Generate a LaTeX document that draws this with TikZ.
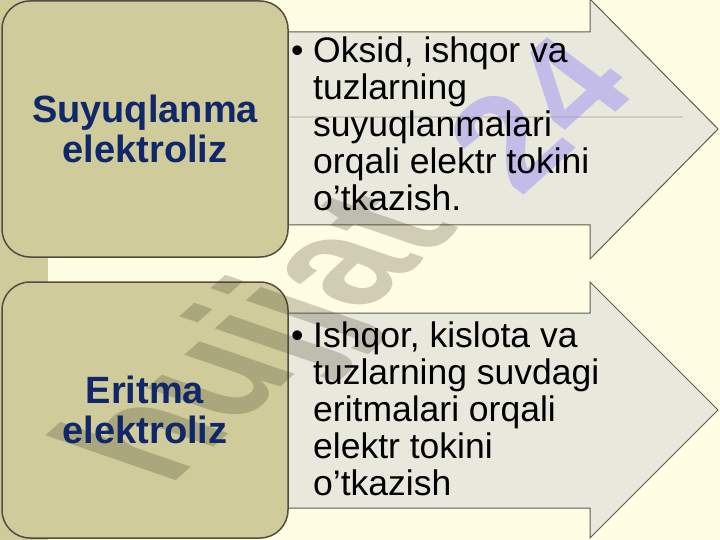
\documentclass[tikz,border=0pt]{standalone}
\usepackage{fontspec}
\setmainfont{Liberation Sans}
\definecolor{bgcream}{RGB}{255,253,228}
\definecolor{olivefill}{RGB}{207,203,155}
\definecolor{oliveedge}{RGB}{80,78,62}
\definecolor{arrowfill}{RGB}{232,232,221}
\definecolor{arrowedge}{RGB}{95,93,80}
\definecolor{headnavy}{RGB}{16,40,105}
\definecolor{wmgray}{RGB}{60,56,30}
\definecolor{wmlav}{RGB}{148,128,248}
\definecolor{faintline}{RGB}{208,206,188}
\begin{document}
\begin{tikzpicture}[x=1pt,y=-1pt,
  catbox/.style={draw=oliveedge, line width=1.5pt, fill=olivefill, rounded corners=28pt,
    minimum width=286pt, minimum height=256pt, inner sep=0pt},
  arrowshape/.style={draw=arrowedge, line width=1pt, fill=arrowfill, line join=miter},
  headtext/.style={font=\fontsize{38}{40}\selectfont\bfseries, text=headnavy, align=center},
  bodyline/.style={font=\fontsize{35.5}{37}\selectfont, anchor=base west, inner sep=0pt},
  wmtext/.style={transform shape, anchor=base west, inner sep=0pt, font=\fontsize{100}{100}\selectfont\bfseries},
]
\useasboundingbox (0,0) rectangle (720,540);
\fill[bgcream] (0,0) rectangle (720,540);
\fill[olivefill] (0,0) rectangle (48,540);

% arrows
\draw[arrowshape] (270,32) -- (590,32) -- (590,-1) -- (718,129) -- (590,259) -- (590,225) -- (270,225) -- cycle;
\draw[arrowshape] (270,313) -- (590,313) -- (590,282) -- (718,410) -- (590,538) -- (590,508) -- (270,508) -- cycle;
\draw[faintline, line width=1.5pt] (289,117) -- (683,117);

% boxes
\node[catbox] (box1) at (145,129) {};
\node[catbox] (box2) at (145,410) {};

% watermark
\begin{scope}[cm={1.10,0.98,-1.80,0.62,(168,488)}]
  \node[wmtext, text=wmgray, opacity=0.24] (wm1) at (0,0) {hujjat};
\end{scope}
\begin{scope}[cm={1.08,0.98,-1.20,0.90,(520,199)}]
  \node[wmtext, text=wmlav, opacity=0.42] (wm2) at (0,0) {24};
\end{scope}

% headings
\node[headtext] (h1) at (box1.center) {Suyuqlanma\\elektroliz};
\node[headtext] (h2) at (box2.center) {Eritma\\elektroliz};

% body text top
\node[bodyline] (b1) at (291,63) {•};
\node[bodyline] (l11) at (313,63) {Oksid, ishqor va};
\node[bodyline] (l12) at (313,100) {tuzlarning};
\node[bodyline] (l13) at (313,137) {suyuqlanmalari};
\node[bodyline] (l14) at (313,174) {orqali elektr tokini};
\node[bodyline] (l15) at (313,211) {o’tkazish.};

% body text bottom
\node[bodyline] (b2) at (291,347) {•};
\node[bodyline] (l21) at (313,347) {Ishqor, kislota va};
\node[bodyline] (l22) at (313,384) {tuzlarning suvdagi};
\node[bodyline] (l23) at (313,421) {eritmalari orqali};
\node[bodyline] (l24) at (313,458) {elektr tokini};
\node[bodyline] (l25) at (313,495) {o’tkazish};
\end{tikzpicture}
\end{document}
